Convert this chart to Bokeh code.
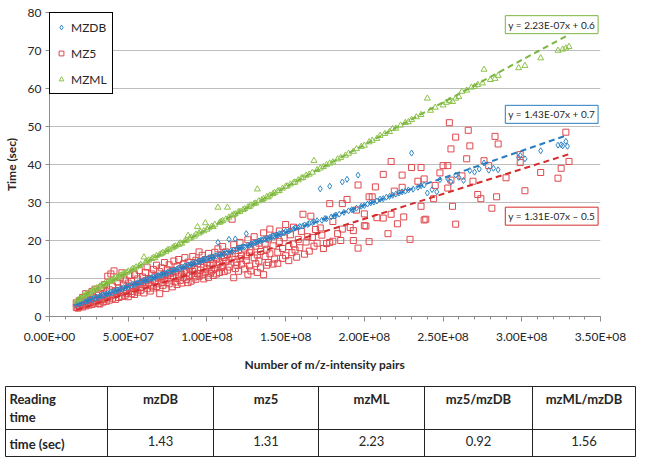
from bokeh.plotting import figure
from bokeh.models import Range1d, FixedTicker, Legend, LegendItem, Label
from bokeh.core.properties import value
from bokeh.embed import file_html
from bokeh.resources import INLINE

# ---------------- data (x in millions of m/z-intensity pairs, y in seconds) ----------------
mzdb_pts = [
    (17,3.0),(18,3.4),(19,3.3),(20,3.7),(21,3.6),(22,4.0),(23,3.9),(24,4.3),(25,4.2),(26,4.6),(27,4.4),(28,4.9),
    (29,4.7),(30,5.1),(31,5.0),(32,5.4),(33,5.3),(34,5.7),(35,5.6),(36,5.9),(37,6.1),(38,6.0),(39,6.4),(40,6.3),
    (41,6.7),(42,6.6),(43,7.0),(44,6.9),(45,7.3),(46,7.2),(47,7.6),(48,7.5),(49,7.9),(50,7.8),(51,8.2),(52,8.1),
    (53,8.5),(54,8.4),(55,8.7),(56,8.9),(57,8.8),(58,9.2),(59,9.1),(60,9.5),(61,9.4),(62,9.8),(63,9.7),(64,10.1),
    (65,10.0),(66,10.4),(67,10.3),(68,10.6),(69,10.8),(70,10.7),(71,11.1),(72,11.0),(73,11.4),(74,11.3),(75,11.7),
    (76,11.6),(77,12.0),(78,11.9),(79,12.3),(80,12.2),(81,12.5),(82,12.7),(83,12.6),(84,13.0),(85,12.9),(86,13.3),
    (87,13.2),(88,13.6),(89,13.5),(90,13.8),(91,14.0),(92,13.9),(93,14.3),(94,14.2),(95,14.6),(96,14.5),(97,14.9),
    (98,14.8),(99,15.2),(100,15.1),(101,15.4),(102,15.3),(103,15.7),(104,15.6),(105,16.0),(106,15.9),(107,19.5),
    (108,16.3),(109,16.2),(110,16.6),(111,16.5),(112,16.9),(113,16.8),(114,20.3),(115,17.2),(116,17.1),(117,17.5),
    (118,20.4),(119,17.8),(120,17.9),(121,18.1),(122,18.2),(123,18.4),(124,18.3),(125,21.8),(126,18.8),(127,18.7),
    (128,19.1),(129,19.0),(130,19.4),(131,19.5),(132,19.6),(133,19.9),(134,20.0),(135,20.1),(136,20.3),(137,20.4),
    (138,20.6),(139,20.5),(140,20.9),(141,20.8),(142,21.2),(143,21.1),(144,21.5),(145,21.4),(146,21.8),(147,21.7),
    (148,22.1),(149,22.0),(150,22.4),(152,22.5),(153,22.8),(155,23.0),(156,23.3),(158,23.4),(159,23.7),(161,23.8),
    (162,24.1),(164,24.2),(165,24.5),(167,24.7),(168,24.9),(170,25.2),(172,33.6),(173,25.3),(175,25.8),(176,25.7),
    (178,34.3),(179,26.2),(181,26.5),(182,26.7),(184,26.9),(186,35.4),(187,27.4),(189,36.1),(190,27.8),(192,28.1),
    (193,28.0),(195,28.5),(196,37.2),(198,29.0),(200,29.2),(202,29.6),(204,29.9),(206,30.1),(208,30.4),(210,30.9),
    (212,31.0),(214,31.4),(216,31.6),(218,31.9),(220,32.2),(222,32.5),(224,32.8),(226,33.0),(228,33.3),(230,43.0),
    (231,33.5),(234,34.0),(236,34.4),(238,34.6),(240,32.5),(243,33.4),(246,32.8),(248,36.0),(253,36.2),(255,35.4),
    (258,37.2),(260,36.6),(263,35.8),(267,38.4),(270,38.0),(273,38.8),(276,40.4),(279,38.5),(282,39.0),(285,38.6),
    (298,41.8),(299,42.4),(302,41.5),(312,43.6),(323,45.1),(325,45.2),(326,44.9),(328,46.1),(329,44.8),
]

mz5_pts = [
    (17,2.4),(17,3.6),(18,2.2),(18,3.0),(19,2.6),(19,4.2),(20,2.9),(20,3.5),(21,2.5),(21,5.0),(22,3.1),(22,4.0),
    (23,2.8),(23,6.0),(24,3.4),(24,4.6),(25,3.0),(25,5.5),(26,3.7),(26,4.3),(27,3.2),(27,6.6),(28,3.9),(28,5.0),
    (29,3.5),(29,7.2),(30,4.1),(30,5.6),(31,3.4),(31,6.2),(32,3.3),(32,4.8),(33,4.4),(33,7.6),(34,3.8),(34,5.9),
    (35,4.6),(35,8.4),(36,4.0),(36,6.5),(37,5.1),(37,10.6),(38,4.3),(38,7.0),(39,5.4),(39,11.2),(40,4.8),(40,8.0),
    (41,5.7),(41,12.0),(42,4.5),(42,6.8),(43,6.1),(43,9.1),(44,5.0),(44,7.5),(45,6.3),(45,10.2),(46,5.3),(46,11.5),
    (47,6.7),(47,8.3),(48,5.6),(48,9.6),(49,7.0),(49,6.1),(50,5.2),(50,8.8),(51,7.4),(51,10.8),(52,6.0),(52,9.3),
    (53,7.8),(53,6.6),(54,5.8),(54,11.0),(55,8.1),(55,7.0),(56,6.4),(56,9.9),(57,8.5),(57,12.1),(58,6.9),(58,7.6),
    (59,9.0),(59,10.4),(60,6.2),(60,8.3),(61,9.4),(61,11.6),(62,7.3),(62,13.0),(63,8.8),(63,10.0),(64,6.7),(64,9.7),
    (65,11.2),(65,8.0),(66,7.5),(66,12.4),(67,9.3),(67,10.6),(68,7.9),(68,13.5),(69,10.1),(69,8.6),(70,6.0),(70,11.8),
    (71,9.0),(71,12.8),(72,8.2),(72,10.4),(73,11.0),(73,14.2),(74,7.4),(74,9.6),(75,12.3),(75,10.8),(76,8.6),(76,13.6),
    (77,11.4),(77,9.9),(78,7.8),(78,12.0),(79,10.3),(79,14.6),(80,9.1),(80,11.7),(81,13.1),(81,8.4),(82,10.6),(82,15.0),
    (83,12.5),(83,9.5),(84,8.8),(84,11.1),(85,13.8),(85,10.2),(86,12.0),(86,15.5),(87,9.7),(87,11.5),(88,14.3),(88,8.9),
    (89,12.7),(89,10.8),(90,9.3),(90,13.4),(91,15.8),(91,11.9),(92,10.4),(92,12.6),(93,14.8),(93,9.8),(94,11.3),(94,13.9),
    (95,17.0),(95,10.6),(96,12.2),(96,14.5),(97,11.0),(97,16.1),(98,13.0),(98,9.9),(99,15.0),(99,11.7),(100,12.5),
    (100,14.1),(101,10.3),(101,16.6),(102,13.4),(102,11.4),(103,15.4),(103,12.0),(104,10.8),(104,14.0),(105,16.9),
    (105,12.7),(106,11.2),(106,15.1),(107,13.6),(107,17.8),(108,14.1),(108,11.6),(109,16.0),(109,12.9),(110,13.3),
    (110,18.4),(111,11.8),(111,15.5),(112,14.4),(112,17.0),(113,12.2),(113,16.3),(114,14.9),(114,13.0),(116,25.6),
    (116,15.7),(117,10.2),(117,18.9),(118,12.6),(118,16.6),(119,14.3),(119,13.5),(120,17.4),(120,11.9),(121,15.2),
    (121,19.5),(122,13.8),(122,16.0),(124,12.5),(124,18.0),(125,14.7),(125,15.9),(126,11.1),(126,20.2),(127,16.8),
    (127,13.3),(128,17.5),(128,12.0),(130,15.4),(130,21.0),(131,13.9),(131,18.5),(132,16.2),(132,11.6),(133,19.3),
    (133,14.6),(134,17.1),(134,12.8),(136,11.0),(136,22.0),(137,15.8),(137,19.0),(138,13.5),(138,17.7),(139,20.4),
    (139,14.2),(140,16.5),(140,23.0),(142,13.8),(142,18.6),(143,15.1),(143,21.2),(145,16.9),(145,14.0),(146,19.8),
    (146,22.5),(148,15.3),(148,17.9),(149,20.7),(150,16.0),(150,24.2),(152,18.4),(152,14.7),(153,21.5),(154,16.8),
    (155,19.1),(155,23.5),(156,17.5),(157,15.6),(158,20.3),(159,18.1),(160,22.4),(161,26.9),(162,16.4),(163,19.6),
    (164,21.0),(165,17.2),(166,26.4),(167,20.8),(168,18.5),(169,22.9),(170,19.3),(172,23.3),(173,21.4),(174,17.9),
    (176,19.2),(178,29.7),(186,29.7),(189,30.8),(196,34.6),(207,34.1),(212,37.4),(224,37.2),(230,39.2),(236,39.2),
    (238,36.2),(250,39.7),(201,23.8),(215,21.8),(229,20.3),(196,18.0),(203,19.7),(178,19.5),(185,20.0),(193,20.0),
    (239,25.6),(225,26.2),(212,25.9),(217,26.9),(221,24.4),(254,51.0),(266,49.0),(258,47.2),(283,47.4),(285,45.4),
    (255,44.1),(267,44.9),(299,42.6),(299,40.5),(328,48.5),(330,40.8),(325,39.0),(312,37.9),(323,36.4),(302,33.1),
    (284,31.5),(276,41.0),(279,39.7),(253,39.7),(217,40.8),(255,35.9),(269,35.6),(272,32.1),(274,31.0),(253,33.8),
    (234,35.6),(281,28.5),(256,29.0),(258,24.3),(238,25.4),(236,29.0),(208,26.0),(200,27.0),(200,23.9),(191,23.4),
    (186,23.0),(183,21.8),(180,19.8),(203,31.5),(205,31.5),(193,22.6),(219,33.0),(245,34.5),(262,37.0),(290,36.5),
    (180,25.0),(195,28.0),(244,31.0),(265,41.5),(248,37.8),(224,34.0),
]

mzml_pts = [
    (17,3.9),(18,4.3),(19,4.6),(20,4.8),(21,5.4),(22,5.3),(23,5.8),(24,6.0),(25,6.3),(26,6.1),(27,6.8),(28,6.9),
    (29,7.2),(30,7.5),(31,7.4),(32,8.0),(33,7.9),(34,8.4),(35,8.6),(36,8.5),(37,9.1),(38,9.2),(39,9.4),(40,9.7),
    (41,9.8),(42,10.3),(43,10.1),(44,10.6),(45,10.8),(46,10.9),(47,11.3),(48,11.4),(49,11.6),(50,11.9),(52,12.2),
    (53,12.6),(54,12.5),(55,13.0),(57,13.3),(58,13.7),(60,15.6),(61,14.3),(62,14.6),(63,14.8),(65,15.2),(66,15.5),
    (67,15.4),(68,16.0),(70,16.3),(71,16.5),(72,16.8),(74,17.1),(75,17.5),(76,17.6),(78,18.0),(79,18.3),(80,18.5),
    (82,18.9),(83,19.3),(84,19.2),(86,19.9),(87,20.0),(88,21.3),(89,20.5),(90,20.8),(92,21.1),(93,21.6),(94,23.6),
    (95,21.9),(96,22.2),(98,22.5),(99,24.6),(100,22.9),(101,23.3),(103,23.7),(104,23.6),(105,24.2),(107,28.7),
    (108,24.7),(109,25.0),(110,25.2),(112,25.6),(113,28.7),(114,26.1),(116,26.6),(117,26.8),(118,27.0),(120,27.5),
    (121,27.6),(123,28.1),(124,28.3),(126,28.8),(127,28.9),(128,29.3),(130,29.7),(131,29.8),(132,33.5),(133,30.4),
    (135,30.7),(136,31.0),(138,31.5),(139,31.4),(140,31.9),(142,32.3),(143,32.6),(145,33.0),(146,33.1),(148,33.7),
    (150,34.2),(151,34.3),(153,34.8),(155,35.2),(156,35.3),(158,35.9),(160,36.4),(161,36.5),(163,37.1),(165,37.4),
    (167,37.9),(168,41.0),(170,38.6),(172,39.0),(174,39.4),(176,39.9),(178,40.3),(180,40.6),(183,41.4),(185,41.8),
    (188,42.4),(190,42.9),(193,43.4),(195,44.1),(198,44.7),(200,45.0),(203,45.9),(205,46.3),(208,46.8),(210,47.6),
    (213,48.1),(216,48.6),(218,49.4),(220,49.5),(223,50.3),(226,51.0),(228,51.2),(230,51.8),(233,52.5),(236,53.1),
    (240,57.4),(242,54.2),(245,55.0),(250,55.6),(252,56.3),(254,56.8),(256,56.5),(258,57.4),(260,57.8),(262,59.2),
    (265,59.5),(268,60.3),(270,60.5),(272,61.0),(275,61.4),(276,65.0),(280,62.3),(283,62.6),(285,63.4),(298,65.4),
    (302,66.0),(312,68.0),(323,70.0),(326,70.3),(328,70.6),(330,71.0),
]

series_names = ["MZDB", "MZ5", "MZML"]
trend_slopes = [1.43e-07, 1.31e-07, 2.23e-07]
trend_intercepts = [0.7, -0.5, 0.6]
trend_texts = ["y = 1.43E-07x + 0.7", "y = 1.31E-07x \u2013 0.5", "y = 2.23E-07x + 0.6"]

x_tick_values = [0, 50000000, 100000000, 150000000, 200000000, 250000000, 300000000, 350000000]
x_tick_labels = ["0.00E+00", "5.00E+07", "1.00E+08", "1.50E+08", "2.00E+08", "2.50E+08", "3.00E+08", "3.50E+08"]
y_tick_values = [0, 10, 20, 30, 40, 50, 60, 70, 80]

table_header = ["mzDB", "mz5", "mzML", "mz5/mzDB", "mzML/mzDB"]
table_values = ["1.43", "1.31", "2.23", "0.92", "1.56"]

# ---------------- styling ----------------
FONT = "Lato"
TXT = "#262626"
colors_marker = ["#2f86c6", "#e0484d", "#8cc24a"]
colors_trend = ["#2a7cc0", "#d42b2b", "#7bb640"]
markers = ["diamond", "square", "triangle"]
sizes = [6, 6, 6]

p = figure(title=None, frame_width=551, frame_height=304, output_backend="svg", toolbar_location=None,
           x_range=Range1d(0, 350000000), y_range=Range1d(0, 80),
           min_border_left=41, min_border_right=42, min_border_top=12, min_border_bottom=57)
p.outline_line_color = None
p.background_fill_color = "white"
p.xgrid.visible = False
p.ygrid.grid_line_color = "#bdbdbd"
p.ygrid.grid_line_width = 1

p.xaxis.ticker = FixedTicker(ticks=x_tick_values, minor_ticks=[i * 10000000 for i in range(36)])
p.xaxis.major_label_overrides = dict(zip(x_tick_values, x_tick_labels))
p.yaxis.ticker = FixedTicker(ticks=y_tick_values)
for ax in (p.xaxis[0], p.yaxis[0]):
    ax.axis_line_color = "#8c8c8c"
    ax.major_tick_line_color = "#8c8c8c"
    ax.minor_tick_line_color = "#8c8c8c"
    ax.major_tick_in = 0
    ax.minor_tick_in = 0
    ax.major_label_text_font = FONT
    ax.major_label_text_font_size = "12px"
    ax.major_label_text_color = TXT
    ax.axis_label_text_font = FONT
    ax.axis_label_text_font_size = "12px"
    ax.axis_label_text_font_style = "bold"
    ax.axis_label_text_color = TXT
p.xaxis.major_tick_out = 5
p.xaxis.minor_tick_out = 3
p.xaxis.major_label_standoff = 7
p.xaxis.axis_label = "Number of m/z-intensity pairs"
p.xaxis.axis_label_standoff = 10
p.yaxis.major_tick_out = 4
p.yaxis.minor_tick_out = 0
p.yaxis.major_label_standoff = 4
p.yaxis.axis_label = "Time (sec)"
p.yaxis.axis_label_standoff = 6

all_pts = [mzdb_pts, mz5_pts, mzml_pts]
renderers = [None, None, None]
for i in (1, 0, 2):  # red drawn first so the blue band stays visible on top
    pts = all_pts[i]
    xs = [a * 1e6 for a, b in pts]
    ys = [b for a, b in pts]
    renderers[i] = p.scatter(xs, ys, marker=markers[i], size=sizes[i], fill_color=None,
                             line_color=colors_marker[i], line_width=1)

for pts, m, b0, c in zip(all_pts, trend_slopes, trend_intercepts, colors_trend):
    xs = [a * 1e6 for a, b in pts]
    x0, x1 = min(xs), max(xs)
    p.line([x0, x1], [m * x0 + b0, m * x1 + b0], line_color=c, line_width=2, line_dash="6 4")

# trend equation boxes (positions are layout)
label_pos = [(319000000, 53.2), (319000000, 26.4), (319000000, 76.8)]
for (lx, ly), txt, c in zip(label_pos, trend_texts, colors_trend):
    p.add_layout(Label(x=lx, y=ly, text=txt, text_align="center", text_baseline="middle",
                       text_font=FONT, text_font_size="10px", text_color=TXT,
                       border_line_color=c, border_line_width=1, background_fill_color="white",
                       padding=3))

legend = Legend(items=[LegendItem(label=n, renderers=[r]) for n, r in zip(series_names, renderers)],
                location="top_left", margin=0, padding=5, spacing=8,
                border_line_color="black", border_line_width=1, border_line_alpha=1,
                background_fill_color="white", background_fill_alpha=1,
                label_text_font=FONT, label_text_font_size="12px", label_text_color=TXT,
                glyph_width=12, glyph_height=12, label_standoff=4, label_height=18)
p.add_layout(legend)

# ---------------- table (separate root, pixel-like coordinates) ----------------
t = figure(title=None, width=642, height=86, output_backend="svg", toolbar_location=None,
           x_axis_type=None, y_axis_type=None,
           x_range=Range1d(0, 642), y_range=Range1d(86, 0), min_border=0)
t.min_border_left = 0
t.min_border_right = 0
t.min_border_top = 0
t.min_border_bottom = 0
t.grid.visible = False
t.outline_line_color = None

col_edges = [5, 107, 213, 318, 424, 532, 635]
row_edges = [12, 55, 82]
t.segment(x0=[col_edges[0]] * 3, y0=row_edges, x1=[col_edges[-1]] * 3, y1=row_edges,
          line_color="#222222", line_width=1)
t.segment(x0=col_edges, y0=[row_edges[0]] * 7, x1=col_edges, y1=[row_edges[-1]] * 7,
          line_color="#222222", line_width=1)

centers = [(col_edges[i] + col_edges[i + 1]) / 2 for i in range(1, 6)]
t.text(x=[col_edges[0] + 4, col_edges[0] + 4], y=[16, 34], text=["Reading", "time"],
       text_font=value(FONT), text_font_size="13px", text_font_style="bold",
       text_color=TXT, text_align="left", text_baseline="top")
t.text(x=centers, y=[16] * 5, text=table_header,
       text_font=value(FONT), text_font_size="13px", text_font_style="bold",
       text_color=TXT, text_align="center", text_baseline="top")
t.text(x=[col_edges[0] + 4], y=[61], text=["time (sec)"],
       text_font=value(FONT), text_font_size="13px", text_font_style="bold",
       text_color=TXT, text_align="left", text_baseline="top")
t.text(x=centers, y=[61] * 5, text=table_values,
       text_font=value(FONT), text_font_size="13px",
       text_color=TXT, text_align="center", text_baseline="top")

open("out.html", "w").write(file_html([p, t], INLINE))
